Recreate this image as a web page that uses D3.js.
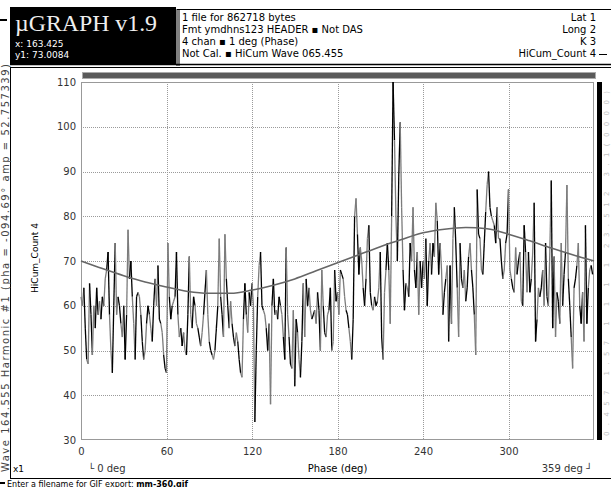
<!DOCTYPE html>
<html>
<head>
<meta charset="utf-8">
<script src="https://cdn.jsdelivr.net/npm/d3@7"></script>
<style>
    body { margin: 0; background: #fff; }
    svg text { font-family: "DejaVu Sans", sans-serif; }
</style>
</head>
<body>
<div id="chart"></div>
<script>
//HiCum_Count 4, one reading per degree of phase (0..359)
var countValues = [
    62, 60, 64, 55, 48, 47, 65, 58, 49, 60,
    55, 64, 58, 61, 57, 62, 60, 66, 68, 72,
    58, 50, 45, 60, 74, 58, 62, 60, 56, 53,
    60, 48, 58, 77, 66, 70, 62, 56, 48, 62,
    63, 62, 58, 52, 48, 50, 56, 60, 58, 55,
    52, 60, 66, 60, 69, 57, 56, 54, 49, 46,
    45, 74, 62, 57, 60, 61, 62, 72, 58, 53,
    55, 51, 54, 50, 49, 58, 71, 58, 55, 62,
    60, 56, 55, 53, 51, 54, 58, 63, 68, 58,
    52, 50, 49, 48, 50, 55, 60, 75, 62, 58,
    53, 76, 66, 60, 55, 61, 56, 53, 51, 54,
    52, 48, 45, 44, 57, 65, 58, 54, 63, 60,
    65, 60, 34, 50, 62, 69, 72, 60, 59, 58,
    55, 50, 56, 38, 60, 66, 58, 59, 57, 62,
    60, 58, 53, 48, 73, 58, 53, 47, 46, 59,
    42, 57, 54, 48, 44, 52, 65, 53, 66, 60,
    64, 59, 57, 58, 59, 56, 63, 59, 50, 68,
    60, 54, 53, 58, 59, 64, 50, 52, 68, 61,
    63, 58, 68, 67, 66, 62, 59, 58, 55, 52,
    48, 57, 80, 84, 76, 67, 73, 70, 64, 60,
    66, 75, 78, 63, 60, 59, 62, 60, 61, 64,
    72, 53, 48, 63, 68, 74, 68, 56, 80, 110,
    97, 80, 70, 89, 101, 82, 68, 59, 65, 64,
    62, 74, 70, 82, 68, 64, 72, 58, 70, 64,
    70, 66, 75, 60, 70, 74, 67, 74, 71, 83,
    79, 67, 74, 68, 58, 63, 66, 69, 52, 69,
    56, 75, 82, 74, 64, 53, 74, 66, 64, 68,
    61, 64, 71, 74, 68, 64, 58, 49, 86, 76,
    75, 68, 67, 74, 81, 87, 90, 82, 80, 79,
    78, 74, 82, 75, 75, 70, 66, 68, 74, 76,
    86, 68, 66, 64, 63, 73, 67, 70, 72, 61,
    60, 78, 72, 63, 72, 63, 66, 72, 83, 52,
    57, 64, 62, 64, 68, 60, 74, 62, 60, 72,
    88, 55, 71, 53, 63, 61, 56, 74, 60, 67,
    72, 87, 66, 60, 53, 46, 64, 66, 69, 74,
    60, 56, 63, 52, 78, 56, 64, 68, 69, 67
];

//Harmonic #1 fit
var fitPhase = [0, 15, 30, 45, 60, 75, 90, 105, 120, 135, 150, 165, 180,
                195, 210, 225, 240, 255, 270, 285, 300, 315, 330, 345, 360];
var fitValues = [70.0, 68.3, 66.7, 65.3, 64.2, 63.2, 62.8, 62.8, 63.5, 64.6, 66.0, 67.8, 69.6,
                 71.4, 73.2, 74.8, 76.3, 77.1, 77.5, 77.2, 76.0, 74.5, 72.9, 71.4, 70.0];

var xTicks = [0, 60, 120, 180, 240, 300];
var yTicks = [30, 40, 50, 60, 70, 80, 90, 100, 110];

var infoLines = ["1 file for 862718 bytes",
                 "Fmt ymdhns123 HEADER \u25aa Not DAS",
                 "4 chan \u25aa 1 deg (Phase)",
                 "Not Cal. \u25aa HiCum Wave 065.455"];
var channelLabels = ["Lat 1", "Long 2", "K 3", "HiCum_Count 4"];

var width = 611,
    height = 487;

var svg = d3.select("#chart").append("svg")
    .attr("width", width)
    .attr("height", height);

//plot area
var x = d3.scaleLinear().domain([0, 360]).range([81, 594]),
    y = d3.scaleLinear().domain([30, 110]).range([440, 82]);

//===== header
svg.append("rect").attr("x", 10).attr("y", 7).attr("width", 166).attr("height", 58).attr("fill", "#000");
svg.append("text")
    .attr("x", 15).attr("y", 31)
    .attr("textLength", 142).attr("lengthAdjust", "spacingAndGlyphs")
    .style("font-family", "'Liberation Serif', serif")
    .style("font-size", "23px")
    .attr("fill", "#eee")
    .text("\u00b5GRAPH v1.9");
svg.append("text").attr("x", 15).attr("y", 47).attr("fill", "#fff").style("font-size", "9px").text("x: 163.425");
svg.append("text").attr("x", 15).attr("y", 58).attr("fill", "#fff").style("font-size", "9px").text("y1: 73.0084");

//little legend dash at the far left
svg.append("rect").attr("x", 0).attr("y", 19).attr("width", 7).attr("height", 2).attr("fill", "#000");

//info box with double borders
svg.append("line").attr("x1", 177).attr("x2", 177).attr("y1", 9).attr("y2", 66).attr("stroke", "#000");
svg.append("line").attr("x1", 179).attr("x2", 179).attr("y1", 9).attr("y2", 66).attr("stroke", "#000");
svg.append("line").attr("x1", 177).attr("x2", 611).attr("y1", 9.5).attr("y2", 9.5).attr("stroke", "#000");

svg.selectAll(".info").data(infoLines).enter().append("text")
    .attr("class", "info")
    .attr("x", 182)
    .attr("y", function (d, i) { return 21 + i * 12; })
    .style("font-size", "10px")
    .attr("fill", "#000")
    .text(function (d) { return d; });

svg.selectAll(".chan").data(channelLabels).enter().append("text")
    .attr("class", "chan")
    .attr("x", 596)
    .attr("y", function (d, i) { return 21 + i * 12; })
    .attr("text-anchor", "end")
    .style("font-size", "10px")
    .text(function (d) { return d; });
svg.append("line").attr("x1", 599).attr("x2", 607).attr("y1", 54.5).attr("y2", 54.5).attr("stroke", "#000");

//===== main panel frame (double line on top)
svg.append("line").attr("x1", 10).attr("x2", 611).attr("y1", 64.5).attr("y2", 64.5).attr("stroke", "#000").attr("stroke-width", 1.5);
svg.append("rect").attr("x", 10.5).attr("y", 67.5).attr("width", 602).attr("height", 411)
    .attr("fill", "none").attr("stroke", "#000");

//dark bar over the plot
svg.append("rect").attr("x", 82.5).attr("y", 72.5).attr("width", 513).attr("height", 6)
    .attr("fill", "#5a5a5a").attr("stroke", "#aaa");

//right black bar
svg.append("rect").attr("x", 597).attr("y", 82).attr("width", 5).attr("height", 358).attr("fill", "#000");

//===== grid
var grid = svg.append("g").attr("class", "grid");
grid.selectAll(".vgrid").data(xTicks.slice(1)).enter().append("line")
    .attr("x1", function (d) { return Math.round(x(d)) + 0.5; })
    .attr("x2", function (d) { return Math.round(x(d)) + 0.5; })
    .attr("y1", y(110)).attr("y2", y(30))
    .attr("stroke", "#9a9a9a").attr("stroke-dasharray", "1,1");
grid.selectAll(".hgrid").data(yTicks.slice(1, -1)).enter().append("line")
    .attr("x1", x(0)).attr("x2", x(360))
    .attr("y1", function (d) { return Math.round(y(d)) + 0.5; })
    .attr("y2", function (d) { return Math.round(y(d)) + 0.5; })
    .attr("stroke", "#9a9a9a").attr("stroke-dasharray", "1,1");

//plot border
svg.append("rect").attr("x", 81.5).attr("y", 82.5).attr("width", 512).attr("height", 357)
    .attr("fill", "none").attr("stroke", "#999");

//===== axes (labels only)
var xAxis = svg.append("g")
    .attr("transform", "translate(0,440)")
    .call(d3.axisBottom(x).tickValues(xTicks).tickSize(0).tickPadding(8));
var yAxis = svg.append("g")
    .attr("transform", "translate(81,0)")
    .call(d3.axisLeft(y).tickValues(yTicks).tickSize(0).tickPadding(5));
[xAxis, yAxis].forEach(function (a) {
    a.select(".domain").remove();
    a.selectAll("text").style("font-family", "'DejaVu Sans', sans-serif").style("font-size", "10px").attr("fill", "#333");
});

//===== data
//segments alternate black / grey like the original plotter
var segments = d3.pairs(countValues.map(function (v, i) { return [i, v]; }));
svg.append("g").selectAll("line").data(segments).enter().append("line")
    .attr("x1", function (d) { return x(d[0][0]); })
    .attr("y1", function (d) { return y(d[0][1]); })
    .attr("x2", function (d) { return x(d[1][0]); })
    .attr("y2", function (d) { return y(d[1][1]); })
    .attr("stroke", function (d, i) { return (Math.floor(i / 2) % 2) ? "#000" : "#7c7c7c"; })
    .attr("stroke-width", 1.3);

var fitLine = d3.line()
    .x(function (d) { return x(d[0]); })
    .y(function (d) { return y(d[1]); })
    .curve(d3.curveMonotoneX);
svg.append("path")
    .datum(fitPhase.map(function (p, i) { return [p, fitValues[i]]; }))
    .attr("d", fitLine)
    .attr("fill", "none")
    .attr("stroke", "#666")
    .attr("stroke-width", 1.6);

//===== side and bottom texts
svg.append("text")
    .attr("transform", "translate(9,472) rotate(-90)")
    .attr("textLength", 408).attr("lengthAdjust", "spacing")
    .style("font-size", "10px").attr("fill", "#444")
    .text("Wave 164.555 Harmonic #1 (pha = -094.69\u00b0 amp = 52.757339)");
svg.append("text")
    .attr("transform", "translate(38,258) rotate(-90)")
    .attr("text-anchor", "middle")
    .style("font-size", "9px").attr("fill", "#000")
    .text("HiCum_Count 4");
//faint scale text along the right edge
svg.append("text")
    .attr("transform", "translate(608.5,436) rotate(-90)")
    .attr("textLength", 345).attr("lengthAdjust", "spacing")
    .style("font-size", "7px").attr("fill", "#c4c4c4")
    .text("0.457 1.57   1 1 1 1   23.512   3.1(0000)");

svg.append("text").attr("x", 13).attr("y", 472).style("font-size", "9px").text("x1");
svg.append("text").attr("x", 88).attr("y", 472).style("font-size", "10px").attr("fill", "#333").text("\u2514 0 deg");
svg.append("text").attr("x", x(180)).attr("y", 472).attr("text-anchor", "middle").style("font-size", "10px").text("Phase (deg)");
svg.append("text").attr("x", 592).attr("y", 472).attr("text-anchor", "end").style("font-size", "10px").attr("fill", "#333").text("359 deg \u2518");

svg.append("rect").attr("x", 0).attr("y", 482).attr("width", 5).attr("height", 2).attr("fill", "#000");
var prompt = svg.append("text").attr("x", 7).attr("y", 486.5).style("font-size", "8px").attr("fill", "#000");
prompt.append("tspan").text("Enter a filename for GIF export: ");
prompt.append("tspan").style("font-weight", "bold").text("mm-360.gif");
</script>
</body>
</html>
